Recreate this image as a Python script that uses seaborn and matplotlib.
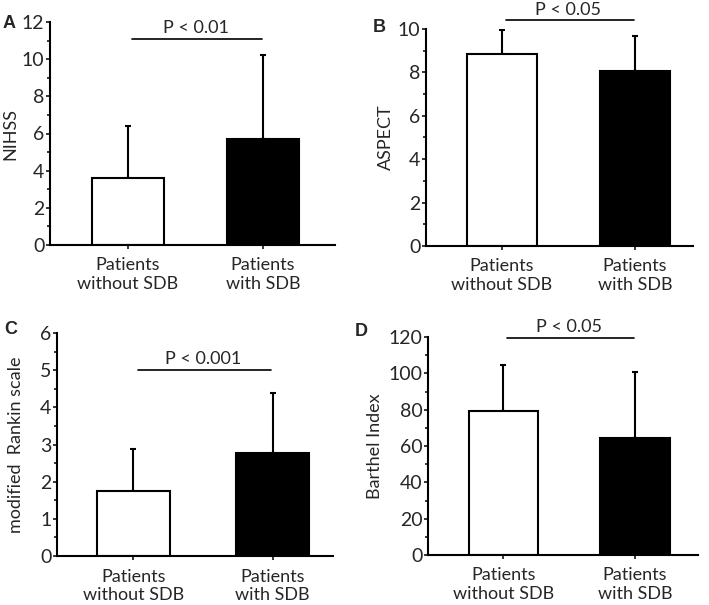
import numpy as np
import matplotlib
matplotlib.use("Agg")
import matplotlib.pyplot as plt
import seaborn as sns
from matplotlib.ticker import MultipleLocator

sns.set_theme(style="ticks")
plt.rcParams["font.family"] = ["Lato", "DejaVu Sans"]

# ── data ──
groups = ["Patients\nwithout SDB", "Patients\nwith SDB"]
nihss_mean = [3.6, 5.7]
nihss_sd = [2.8, 4.55]
aspect_mean = [8.85, 8.05]
aspect_sd = [1.1, 1.65]
rankin_mean = [1.75, 2.77]
rankin_sd = [1.13, 1.61]
barthel_mean = [79.5, 64.5]
barthel_sd = [25.0, 36.0]

panels = [
    # letter, ylabel, means, sds, ymax, major, p-text, p-line y
    ("A", "NIHSS", nihss_mean, nihss_sd, 12, 2, "P < 0.01", 11.1),
    ("B", "ASPECT", aspect_mean, aspect_sd, 10, 2, "P < 0.05", 10.4),
    ("C", "modified  Rankin scale", rankin_mean, rankin_sd, 6, 1, "P < 0.001", 5.0),
    ("D", "Barthel Index", barthel_mean, barthel_sd, 120, 20, "P < 0.05", 119.5),
]

W, H = 709, 605
# axes boxes in pixels: left, right, top, bottom
boxes = [(50, 335, 22, 245), (426, 693, 29, 246),
         (57, 333, 333, 556), (428, 698, 337, 555)]
xlims = [(-0.578, 1.533), (-0.571, 1.436), (-0.55, 1.435), (-0.574, 1.479)]
label_x = [-0.112, -0.12, -0.12, -0.167]
letter_pos = [(9, 23), (379, 28), (11, 329), (361, 331)]

fig = plt.figure(figsize=(W / 100, H / 100), dpi=100)

for i, (letter, ylab, means, sds, ymax, major, ptxt, py) in enumerate(panels):
    l, r, t, b = boxes[i]
    ax = fig.add_axes([l / W, 1 - b / H, (r - l) / W, (b - t) / H])
    sns.barplot(x=groups, y=means, hue=groups, palette=["white", "black"],
                edgecolor="black", linewidth=1.5, width=0.53, legend=False,
                ax=ax, zorder=2)
    ax.errorbar([0, 1], means, yerr=[[0, 0], sds], fmt="none", ecolor="black",
                elinewidth=1.5, capsize=2, capthick=1.5, zorder=1)
    ax.set_ylim(0, ymax)
    ax.set_xlim(*xlims[i])
    ax.yaxis.set_major_locator(MultipleLocator(major))
    ax.yaxis.set_minor_locator(MultipleLocator(major / 2))
    ax.tick_params(axis="y", which="major", length=3, width=1.3, labelsize=14, pad=1)
    ax.tick_params(axis="y", which="minor", length=2, width=1.3)
    ax.tick_params(axis="x", length=3, width=1.3, labelsize=13, pad=6)
    for lab in ax.get_xticklabels():
        lab.set_linespacing(1.2)
    for s in ["left", "bottom"]:
        ax.spines[s].set_linewidth(1.5)
        ax.spines[s].set_color("black")
    sns.despine(ax=ax)
    ax.set_ylabel(ylab, fontsize=13)
    ax.yaxis.set_label_coords(label_x[i], 0.5)
    ax.set_xlabel("")
    # significance bar
    ax.plot([0.03, 0.99], [py, py], color="black", lw=1.2, clip_on=False)
    ax.annotate(ptxt, xy=(0.5, py), xytext=(0, 2), textcoords="offset points",
                ha="center", va="bottom", fontsize=13, annotation_clip=False)
    lx, ly = letter_pos[i]
    fig.text(lx / W, 1 - ly / H, letter, fontsize=13, fontweight="bold",
             ha="center", va="center", family=["Liberation Sans", "DejaVu Sans"])

fig.savefig("out.png", dpi=100)
